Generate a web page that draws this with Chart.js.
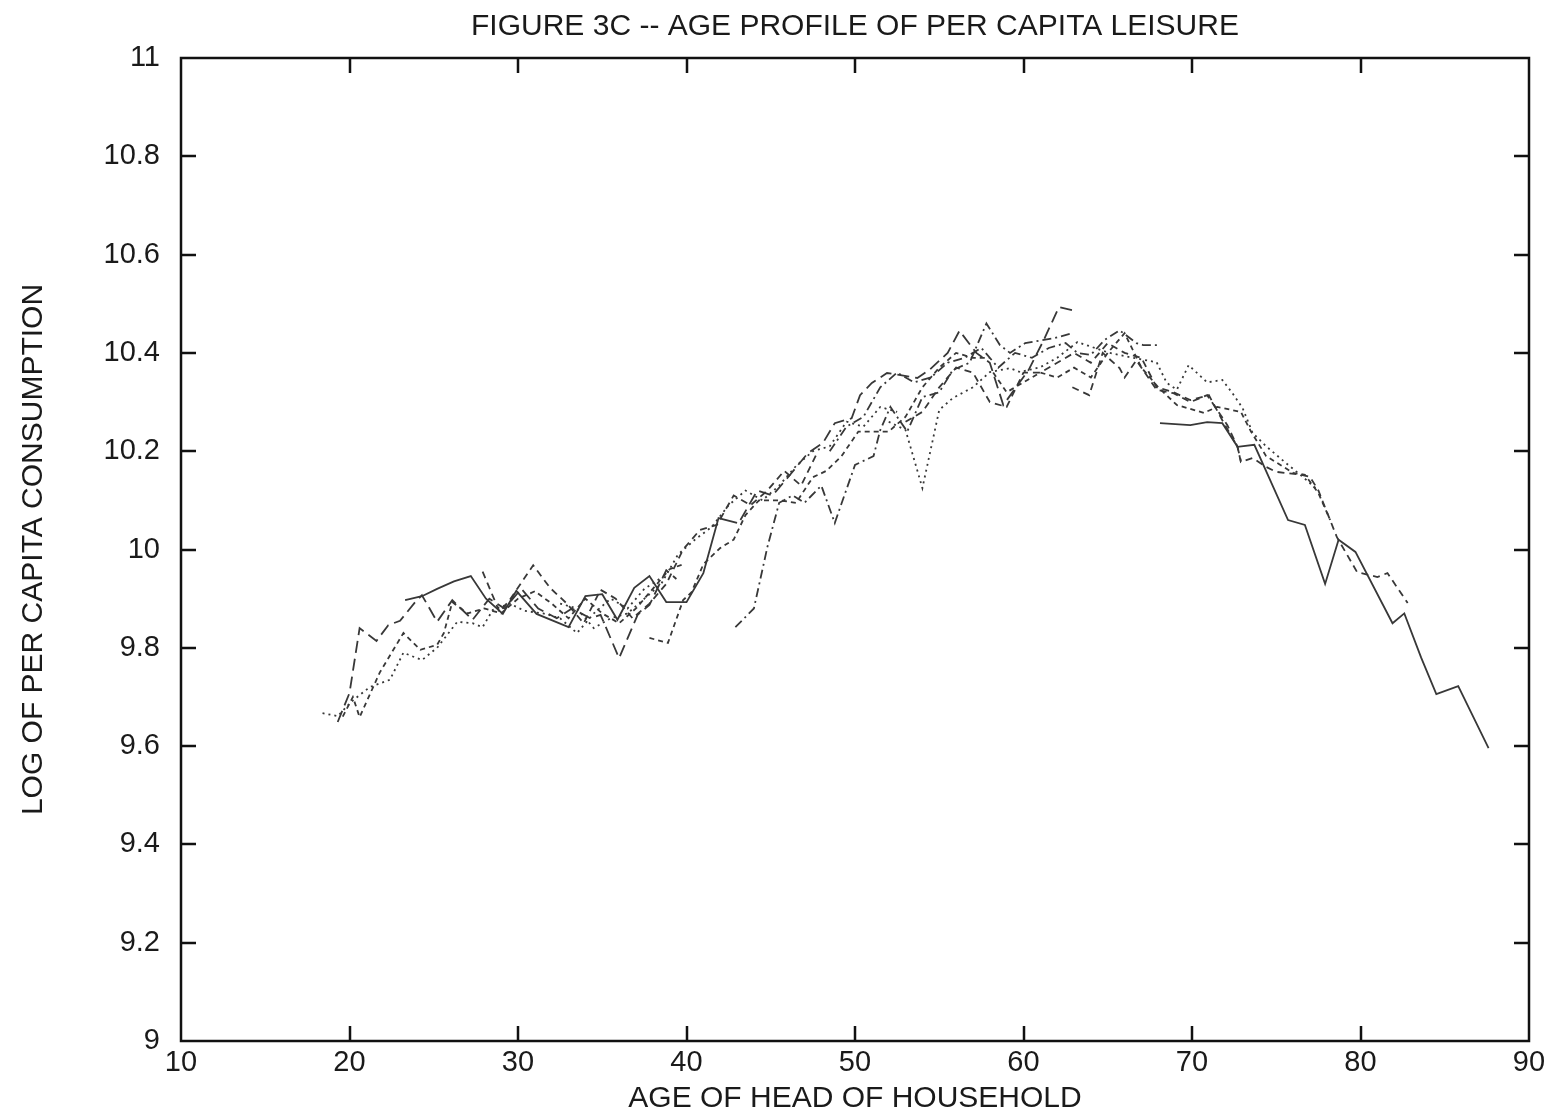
<!DOCTYPE html>
<html>
<head>
<meta charset="utf-8">
<script src="https://cdn.jsdelivr.net/npm/chart.js@4/dist/chart.umd.min.js"></script>
<style>
  html, body { margin: 0; padding: 0; background: #ffffff; }
  #wrap { width: 1552px; height: 1120px; position: relative; }
</style>
</head>
<body>
<div id="wrap"><canvas id="c" width="1552" height="1120"></canvas></div>
<script>
// ---- axis ticks ----
const xTickValues = [10, 20, 30, 40, 50, 60, 70, 80, 90];
const xTickLabels = ['10', '20', '30', '40', '50', '60', '70', '80', '90'];
const yTickValues = [9, 9.2, 9.4, 9.6, 9.8, 10, 10.2, 10.4, 10.6, 10.8, 11];
const yTickLabels = ['9', '9.2', '9.4', '9.6', '9.8', '10', '10.2', '10.4', '10.6', '10.8', '11'];

// ---- cohort series (age of head, log per capita value) ----
const agesA = [18.4, 19.3, 20.1, 21.2, 22.4, 23.2, 24.3, 25.2, 26.4, 27.3, 27.9, 28.5, 29.5, 30.4, 31.5, 32.5, 33.5, 34.5, 35.5, 36.5, 37.5, 38.4];
const valsA = [9.667, 9.661, 9.69, 9.72, 9.735, 9.79, 9.775, 9.80, 9.853, 9.85, 9.842, 9.877, 9.89, 9.875, 9.87, 9.86, 9.83, 9.87, 9.90, 9.88, 9.92, 9.94];

const agesB = [19.3, 20.0, 20.6, 21.6, 22.3, 23.0, 23.9, 24.3, 25.2, 26.1, 27.3, 28.3, 29.2, 30.2, 31.2, 32.3, 33.2, 34.3, 34.9, 36.0, 37.1, 37.8, 38.8, 39.4];
const valsB = [9.649, 9.708, 9.840, 9.814, 9.846, 9.855, 9.893, 9.907, 9.853, 9.897, 9.857, 9.90, 9.88, 9.92, 9.88, 9.86, 9.88, 9.86, 9.867, 9.779, 9.867, 9.887, 9.958, 9.94];

const agesC = [19.6, 20.2, 20.6, 21.8, 23.2, 24.2, 25.2, 25.6, 26.1, 27.0, 28.0, 29.0, 30.0, 31.0, 32.0, 33.0, 34.0, 35.0, 36.0, 37.0, 38.0, 39.0, 39.8];
const valsC = [9.66, 9.70, 9.659, 9.75, 9.83, 9.796, 9.806, 9.83, 9.893, 9.87, 9.88, 9.87, 9.90, 9.915, 9.89, 9.86, 9.90, 9.87, 9.85, 9.88, 9.92, 9.96, 9.97];

const agesD = [23.3, 24.3, 25.2, 26.2, 27.2, 28.1, 29.1, 29.9, 31.1, 33.0, 34.0, 35.0, 35.9, 36.9, 37.8, 38.8, 40.0, 41.0, 41.9, 43.0];
const valsD = [9.897, 9.905, 9.92, 9.935, 9.946, 9.90, 9.869, 9.916, 9.869, 9.842, 9.905, 9.909, 9.857, 9.922, 9.946, 9.893, 9.893, 9.952, 10.064, 10.054];

const agesE = [27.9, 28.9, 29.5, 30.9, 31.9, 32.9, 33.9, 34.9, 35.8, 36.8, 37.8, 38.8, 39.8, 40.8, 41.8, 42.8, 43.8, 44.8, 45.8, 46.8, 47.8];
const valsE = [9.955, 9.873, 9.897, 9.968, 9.922, 9.89, 9.85, 9.918, 9.90, 9.86, 9.89, 9.93, 10.00, 10.04, 10.05, 10.11, 10.09, 10.12, 10.16, 10.13, 10.20];

const agesF = [32.5, 33.5, 34.5, 35.5, 36.5, 37.5, 38.5, 39.5, 40.5, 41.5, 42.5, 43.5, 44.5, 45.5, 46.5, 47.5, 48.5, 49.5, 50.5, 51.5, 52.5];
const valsF = [9.89, 9.88, 9.84, 9.86, 9.87, 9.90, 9.93, 9.99, 10.02, 10.046, 10.09, 10.12, 10.10, 10.13, 10.17, 10.20, 10.21, 10.26, 10.25, 10.29, 10.28];

const agesG = [37.8, 38.9, 39.8, 40.3, 41.0, 42.0, 42.8, 43.5, 44.3, 45.5, 46.5, 47.5, 48.3, 49.2, 50.2, 51.0, 52.0, 53.0, 54.0, 55.0, 56.0, 57.0, 58.0];
const valsG = [9.82, 9.81, 9.897, 9.913, 9.97, 10.003, 10.02, 10.07, 10.10, 10.10, 10.095, 10.147, 10.16, 10.19, 10.24, 10.24, 10.24, 10.27, 10.33, 10.37, 10.40, 10.39, 10.39];

const agesH = [42.9, 44.0, 44.8, 45.5, 46.3, 47.0, 48.0, 48.8, 50.0, 51.1, 51.5, 52.1, 53.1, 54.0, 55.0, 55.8, 56.8, 57.8, 58.6, 59.2, 60.1, 61.8, 62.9];
const valsH = [9.842, 9.88, 10.005, 10.095, 10.11, 10.095, 10.13, 10.054, 10.172, 10.19, 10.243, 10.29, 10.24, 10.31, 10.32, 10.365, 10.38, 10.46, 10.416, 10.40, 10.42, 10.43, 10.44];

const agesI = [43.2, 44.2, 45.1, 46.1, 47.2, 48.1, 48.8, 49.8, 50.3, 51.0, 51.9, 52.7, 53.7, 54.4, 55.5, 56.2, 57.2, 58.0, 58.8, 60.3, 61.2, 62.1, 62.9];
const valsI = [10.06, 10.12, 10.11, 10.15, 10.196, 10.217, 10.257, 10.267, 10.314, 10.339, 10.359, 10.355, 10.349, 10.365, 10.40, 10.445, 10.40, 10.38, 10.294, 10.365, 10.426, 10.493, 10.487];

const agesJ = [52.0, 53.0, 54.0, 55.0, 55.8, 57.0, 58.0, 59.2, 59.8, 61.0, 62.0, 63.2, 65.1, 66.5, 67.9, 68.5, 69.1, 69.8, 70.9, 71.8, 72.4, 73.0, 73.6, 74.4, 75.5, 76.5, 77.5];
const valsJ = [10.26, 10.243, 10.125, 10.284, 10.308, 10.33, 10.361, 10.369, 10.361, 10.371, 10.39, 10.422, 10.40, 10.39, 10.381, 10.339, 10.325, 10.375, 10.34, 10.345, 10.318, 10.288, 10.237, 10.21, 10.178, 10.15, 10.12];

const agesK = [48.5, 49.5, 50.5, 51.5, 52.5, 53.5, 54.5, 55.5, 56.5, 57.5, 58.5, 59.5, 60.5, 61.5, 62.5, 63.2, 64.0, 64.8, 65.7, 66.7, 67.1, 68.1];
const valsK = [10.20, 10.25, 10.27, 10.33, 10.36, 10.34, 10.35, 10.38, 10.39, 10.41, 10.37, 10.40, 10.39, 10.41, 10.42, 10.40, 10.396, 10.426, 10.446, 10.42, 10.416, 10.416];

const agesL = [53.0, 54.0, 55.0, 56.0, 57.0, 58.0, 59.0, 60.0, 61.0, 62.0, 63.0, 64.0, 65.0, 66.0, 67.0, 67.9, 68.9, 69.9, 71.0, 71.8, 72.7, 72.9];
const valsL = [10.26, 10.28, 10.33, 10.37, 10.36, 10.30, 10.29, 10.36, 10.36, 10.38, 10.40, 10.38, 10.42, 10.40, 10.39, 10.33, 10.32, 10.304, 10.314, 10.263, 10.209, 10.18];

const agesM = [62.9, 63.9, 64.7, 65.7, 66.0, 66.7, 67.9, 68.9, 69.9, 70.9, 72.1, 72.7, 72.9, 73.6, 74.4, 75.0, 76.5, 77.0, 77.5, 78.6, 79.8, 81.0, 81.6, 82.8];
const valsM = [10.33, 10.314, 10.40, 10.369, 10.35, 10.385, 10.325, 10.318, 10.30, 10.314, 10.253, 10.209, 10.178, 10.186, 10.168, 10.158, 10.152, 10.148, 10.12, 10.025, 9.954, 9.944, 9.952, 9.891];

const agesP = [58.2, 59.0, 60.0, 61.0, 62.0, 63.0, 64.0, 65.0, 66.0, 67.0, 68.0, 69.1, 70.7, 71.5, 72.9, 73.5, 74.4, 76.0, 76.7, 77.5, 78.2];
const valsP = [10.36, 10.32, 10.34, 10.36, 10.35, 10.37, 10.35, 10.40, 10.44, 10.37, 10.33, 10.294, 10.278, 10.29, 10.28, 10.24, 10.19, 10.156, 10.152, 10.115, 10.06];

const agesQ = [68.1, 69.9, 70.9, 71.8, 72.7, 73.7, 75.7, 76.7, 77.9, 78.7, 79.7, 81.9, 82.6, 83.6, 84.5, 85.8, 87.6];
const valsQ = [10.257, 10.253, 10.259, 10.257, 10.209, 10.213, 10.06, 10.05, 9.93, 10.02, 9.995, 9.85, 9.87, 9.78, 9.706, 9.722, 9.596];

// ---- line styles (gnuplot-like dash types) ----
const dashStyles = {
  solid: [],
  dotted: [2, 4],
  dash: [7, 5],
  shortdash: [5, 4],
  longdash: [12, 6],
  dashdot: [9, 4, 2, 4]
};

const seriesList = [
  [agesA, valsA, 'dotted'],
  [agesB, valsB, 'longdash'],
  [agesC, valsC, 'shortdash'],
  [agesD, valsD, 'solid'],
  [agesE, valsE, 'dash'],
  [agesF, valsF, 'dotted'],
  [agesG, valsG, 'shortdash'],
  [agesH, valsH, 'dashdot'],
  [agesI, valsI, 'longdash'],
  [agesJ, valsJ, 'dotted'],
  [agesK, valsK, 'dashdot'],
  [agesL, valsL, 'dash'],
  [agesM, valsM, 'dash'],
  [agesP, valsP, 'shortdash'],
  [agesQ, valsQ, 'solid']
];

const datasets = seriesList.map((s, i) => ({
  label: 'cohort ' + (i + 1),
  data: s[0].map((a, j) => ({ x: a, y: s[1][j] })),
  borderColor: '#383838',
  borderWidth: 1.8,
  borderDash: dashStyles[s[2]],
  pointRadius: 0,
  tension: 0,
  fill: false
}));

const FONT = "'Liberation Sans', Arial, Helvetica, sans-serif";

const frameTicks = {
  id: 'frameTicks',
  afterDatasetsDraw(chart) {
    const { ctx, chartArea: { left, right, top, bottom }, scales: { x, y } } = chart;
    const L = 15;
    ctx.save();
    ctx.strokeStyle = '#111111';
    ctx.lineWidth = 2.5;
    ctx.beginPath();
    xTickValues.forEach(v => {
      if (v === xTickValues[0] || v === xTickValues[xTickValues.length - 1]) return;
      const px = Math.round(x.getPixelForValue(v));
      ctx.moveTo(px, bottom); ctx.lineTo(px, bottom - L);
      ctx.moveTo(px, top); ctx.lineTo(px, top + L);
    });
    yTickValues.forEach(v => {
      if (v === yTickValues[0] || v === yTickValues[yTickValues.length - 1]) return;
      const py = Math.round(y.getPixelForValue(v));
      ctx.moveTo(left, py); ctx.lineTo(left + L, py);
      ctx.moveTo(right, py); ctx.lineTo(right - L, py);
    });
    ctx.stroke();
    ctx.lineWidth = 2.5;
    ctx.strokeRect(left, top, right - left, bottom - top);
    ctx.restore();
  }
};

new Chart(document.getElementById('c'), {
  type: 'line',
  data: { datasets },
  options: {
    responsive: false,
    animation: false,
    layout: { padding: { left: 0, right: 23, top: 0, bottom: 0 } },
    plugins: {
      legend: { display: false },
      tooltip: { enabled: false },
      title: {
        display: true,
        text: 'FIGURE 3C -- AGE PROFILE OF PER CAPITA LEISURE',
        fullSize: false,
        color: '#1a1a1a',
        font: { family: FONT, size: 30, weight: 'normal' },
        padding: { top: 9, bottom: 13 }
      }
    },
    scales: {
      x: {
        type: 'linear',
        min: 10, max: 90,
        afterBuildTicks: (s) => { s.ticks = xTickValues.map(v => ({ value: v })); },
        afterFit: (s) => { s.height = 79; },
        grid: { display: false, drawTicks: false },
        border: { display: false },
        ticks: {
          color: '#1a1a1a',
          padding: 5,
          maxRotation: 0,
          font: { family: FONT, size: 29 },
          callback: (v) => xTickLabels[xTickValues.indexOf(v)]
        },
        title: {
          display: true,
          text: 'AGE OF HEAD OF HOUSEHOLD',
          color: '#1a1a1a',
          font: { family: FONT, size: 30 },
          padding: { top: 0, bottom: 3 }
        }
      },
      y: {
        type: 'linear',
        min: 9, max: 11,
        afterBuildTicks: (s) => { s.ticks = yTickValues.map(v => ({ value: v })); },
        afterFit: (s) => { s.width = 181; },
        grid: { display: false, drawTicks: false },
        border: { display: false },
        ticks: {
          color: '#1a1a1a',
          padding: 21,
          font: { family: FONT, size: 29 },
          callback: (v) => {
            const i = yTickValues.findIndex(t => Math.abs(t - v) < 1e-6);
            return i >= 0 ? yTickLabels[i] : '';
          }
        },
        title: {
          display: true,
          text: 'LOG OF PER CAPITA CONSUMPTION',
          color: '#1a1a1a',
          font: { family: FONT, size: 30 },
          padding: { top: 16, bottom: 0 }
        }
      }
    }
  },
  plugins: [frameTicks]
});
</script>
</body>
</html>
